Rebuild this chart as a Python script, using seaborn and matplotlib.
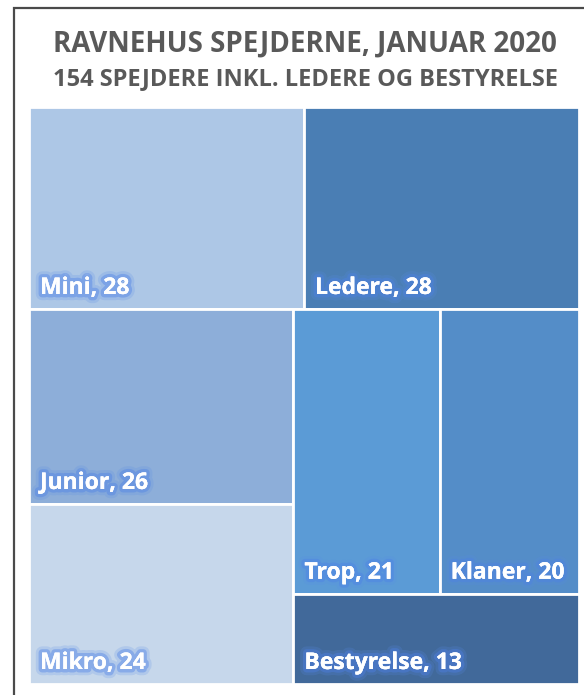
# treemap of scout members, drawn with matplotlib patches on a seaborn-themed figure

import seaborn as sns
import matplotlib.pyplot as plt
import matplotlib.patches as patches
import matplotlib.patheffects as pe

# data
top_row = ["Mini", "Ledere"]
top_vals = [28, 28]
left_col = ["Junior", "Mikro"]
left_vals = [26, 24]
right_top = ["Trop", "Klaner"]
right_top_vals = [21, 20]
right_bottom = ["Bestyrelse"]
right_bottom_vals = [13]

colors = {
    "Mini": "#adc7e6",
    "Ledere": "#4a7eb4",
    "Junior": "#8daed9",
    "Mikro": "#c6d7eb",
    "Trop": "#5b9bd6",
    "Klaner": "#548dc8",
    "Bestyrelse": "#41699a",
}

title = "RAVNEHUS SPEJDERNE, JANUAR 2020"
subtitle = "154 SPEJDERE INKL. LEDERE OG BESTYRELSE"

sns.set_theme(style="white")
plt.rcParams['font.family'] = ['Open Sans', 'DejaVu Sans']

fig = plt.figure(figsize=(5.84, 6.95), dpi=100)
W, H = 584, 695

# outer frame (cropped on right and bottom)
frame = patches.Rectangle((14 / W, -0.1), 1.2, (H - 8) / H + 0.1, transform=fig.transFigure,
                          fill=False, edgecolor="#4a4a4a", linewidth=1.6)
fig.patches.append(frame)

fig.text(0.523, (H - 44) / H, title, ha="center", va="center", fontsize=20,
         fontweight="bold", color="#595959")
fig.text(0.523, (H - 79) / H, subtitle, ha="center", va="center", fontsize=17,
         fontweight="bold", color="#595959")

ax = fig.add_axes([29 / W, 11 / H, 550 / W, 577 / H])
ax.set_xlim(0, 1)
ax.set_ylim(0, 1)
ax.axis("off")

total = sum(top_vals) + sum(left_vals) + sum(right_top_vals) + sum(right_bottom_vals)
rects = []

# top row
top_h = sum(top_vals) / total
x = 0
for name, v in zip(top_row, top_vals):
    w = v / sum(top_vals)
    rects.append((name, v, x, 1 - top_h, w, top_h))
    x += w

# bottom block
bot_h = 1 - top_h
rest = sum(left_vals) + sum(right_top_vals) + sum(right_bottom_vals)
left_w = sum(left_vals) / rest
y = bot_h
for name, v in zip(left_col, left_vals):
    h = bot_h * v / sum(left_vals)
    rects.append((name, v, 0, y - h, left_w, h))
    y -= h

right_w = 1 - left_w
right_sum = sum(right_top_vals) + sum(right_bottom_vals)
rt_h = bot_h * sum(right_top_vals) / right_sum
x = left_w
for name, v in zip(right_top, right_top_vals):
    w = right_w * v / sum(right_top_vals)
    rects.append((name, v, x, bot_h - rt_h, w, rt_h))
    x += w
for name, v in zip(right_bottom, right_bottom_vals):
    rects.append((name, v, left_w, 0, right_w, bot_h - rt_h))

glow = [
    pe.withStroke(linewidth=9, foreground=(0.35, 0.55, 0.9, 0.2)),
    pe.withStroke(linewidth=5, foreground=(0.3, 0.5, 0.9, 0.4)),
    pe.Normal(),
]

for name, v, x0, y0, w, h in rects:
    ax.add_patch(patches.Rectangle((x0, y0), w, h, facecolor=colors[name],
                                   edgecolor="white", linewidth=2))
    ax.text(x0 + 11 / 550, y0 + 15 / 577, f"{name}, {v}", ha="left", va="baseline",
            fontsize=16.5, fontweight="bold", color="white", path_effects=glow)

plt.savefig("out.png", dpi=100)
